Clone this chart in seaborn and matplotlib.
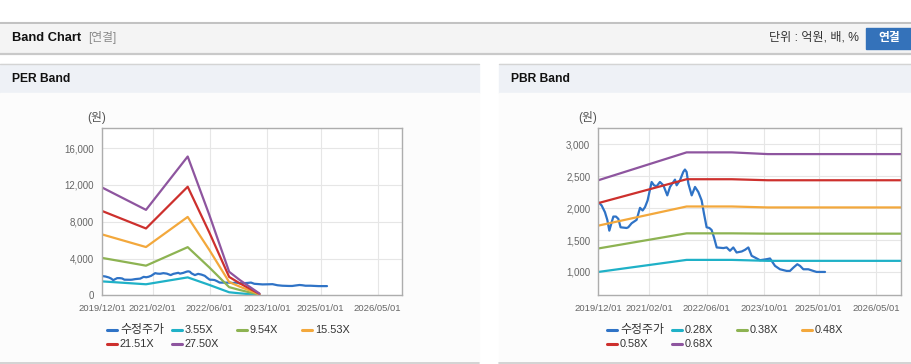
import matplotlib
matplotlib.use("Agg")
import matplotlib.pyplot as plt
import matplotlib.dates as mdates
from matplotlib.ticker import FuncFormatter
from matplotlib.patches import Rectangle
from matplotlib.lines import Line2D
import pandas as pd
import seaborn as sns

# ---- data ----
price_dates = [
    "2019-12-01", "2019-12-29", "2020-01-26", "2020-02-15", "2020-03-03", "2020-03-23",
    "2020-04-06", "2020-04-28", "2020-05-18", "2020-06-06", "2020-07-27", "2020-08-10",
    "2020-09-07", "2020-10-19", "2020-11-17", "2020-12-09", "2020-12-29", "2021-01-20",
    "2021-02-23", "2021-03-15", "2021-04-06", "2021-05-04", "2021-06-02", "2021-07-05",
    "2021-07-28", "2021-09-08", "2021-09-22", "2021-10-20", "2021-11-17", "2021-12-01",
    "2021-12-15", "2021-12-30", "2022-01-27", "2022-02-24", "2022-03-24", "2022-04-21",
    "2022-05-11", "2022-06-02", "2022-06-25", "2022-07-14", "2022-08-03", "2022-08-26",
    "2022-10-21", "2022-11-18", "2022-12-16", "2023-01-13", "2023-02-10", "2023-03-25",
    "2023-04-22", "2023-05-20", "2023-06-17", "2023-07-15", "2023-08-26", "2023-10-22",
    "2023-11-19", "2023-12-31", "2024-02-11", "2024-04-07", "2024-05-05", "2024-06-03",
    "2024-07-06", "2024-07-29", "2024-08-26", "2024-10-07", "2024-11-18", "2024-12-16",
    "2025-02-25",
]
price_values = [
    2095, 2042, 1937, 1816, 1647, 1779,
    1868, 1868, 1832, 1700, 1689, 1700,
    1763, 1816, 2005, 1963, 2016, 2121,
    2410, 2358, 2342, 2410, 2358, 2200,
    2332, 2447, 2358, 2437, 2568, 2605,
    2568, 2384, 2200, 2332, 2253, 2121,
    1911, 1700, 1689, 1658, 1542, 1384,
    1374, 1384, 1332, 1384, 1305, 1321,
    1347, 1384, 1253, 1226, 1184, 1200,
    1211, 1095, 1042, 1016, 1016, 1068,
    1121, 1095, 1042, 1042, 1016, 1000,
    1000,
]

per_dates = ["2019-12-01", "2020-12-07", "2021-11-27", "2022-05-30",
             "2022-11-15", "2023-02-15", "2023-07-31"]
per_355 = [1512, 1200, 1949, 1129, 330, 213, 25]
per_954 = [4064, 3225, 5237, 3034, 887, 572, 67]
per_1553 = [6616, 5249, 8526, 4939, 1444, 932, 109]
per_2151 = [9163, 7270, 11809, 6840, 2000, 1291, 151]
per_2750 = [11715, 9295, 15098, 8745, 2558, 1650, 193]
per_labels = ["3.55X", "9.54X", "15.53X", "21.51X", "27.50X"]

pbr_dates = ["2019-12-01", "2021-12-15", "2022-12-31", "2023-10-31", "2026-11-28"]
pbr_028 = [1000, 1189, 1189, 1174, 1174]
pbr_038 = [1368, 1605, 1605, 1600, 1600]
pbr_048 = [1726, 2026, 2026, 2011, 2011]
pbr_058 = [2079, 2453, 2453, 2437, 2437]
pbr_068 = [2437, 2874, 2874, 2847, 2847]
pbr_labels = ["0.28X", "0.38X", "0.48X", "0.58X", "0.68X"]

x_ticks = ["2019-12-01", "2021-02-01", "2022-06-01", "2023-10-01", "2025-01-01", "2026-05-01"]
x_range = ["2019-12-01", "2026-11-28"]

price_label = "수정주가"
price_color = "#2f73c6"
band_colors = ["#1fb1c7", "#8db352", "#f3a83c", "#cd302d", "#8e559f"]

# ---- style ----
sns.set_style("white")
plt.rcParams["font.family"] = ["Liberation Sans", "Noto Sans CJK KR", "DejaVu Sans"]

W, H = 912, 364
fig = plt.figure(figsize=(W / 100, H / 100), dpi=100)
fig.patch.set_facecolor("white")


def fx(px):
    return px / W


def fy(py):
    return 1 - py / H


def rect(x0, y0, x1, y1, color):
    fig.patches.append(Rectangle((fx(x0), fy(y1)), fx(x1) - fx(x0), fy(y0) - fy(y1),
                                 transform=fig.transFigure, color=color, zorder=-2))


def hline(x0, x1, y, color, lw=1.0):
    fig.add_artist(Line2D([fx(x0), fx(x1)], [fy(y), fy(y)], transform=fig.transFigure,
                          color=color, lw=lw, zorder=-1))


# header bar
rect(0, 22, W, 53, "#f4f4f4")
hline(0, W, 22.5, "#b9b9b9", 1.2)
hline(0, W, 53.5, "#c9c9c9", 1.6)
fig.text(fx(12), fy(38), "Band Chart", fontsize=9.3, fontweight="bold", va="center", color="#111")
fig.text(fx(88), fy(38), "[연결]", fontsize=8.5, va="center", color="#8a8a8a")
fig.text(fx(859), fy(38), "단위 : 억원, 배, %", fontsize=8.7, va="center", ha="right", color="#333")
rect(866, 28, W, 49, "#3472ba")
fig.text(fx(889), fy(38.5), "연결", fontsize=8.5, fontweight="bold", va="center", ha="center",
         color="white")

# panels
for x0, x1, title in [(0, 479, "PER Band"), (499, W, "PBR Band")]:
    rect(x0, 64, x1, 93, "#eef1f6")
    hline(x0, x1, 64, "#d4d4d4", 1.0)
    rect(x0, 93, x1, 362, "#fcfcfc")
    hline(x0, x1, 362.5, "#cccccc", 1.2)
    fig.text(fx(x0 + 12), fy(79), title, fontsize=8.7, fontweight="bold", va="center",
             color="#111")


def style_axes(ax, ylim, yticks):
    ax.set_facecolor("white")
    ax.set_xlim(pd.to_datetime(x_range))
    ax.set_ylim(*ylim)
    ax.set_xticks(pd.to_datetime(x_ticks))
    ax.xaxis.set_major_formatter(mdates.DateFormatter("%Y/%m/%d"))
    ax.set_yticks(yticks)
    ax.yaxis.set_major_formatter(FuncFormatter(lambda v, p: f"{v:,.0f}"))
    ax.tick_params(axis="x", length=0, pad=6, labelsize=6.8, colors="#666")
    ax.tick_params(axis="y", length=3.6, width=0.8, color="#b5b5b5", pad=2.2,
                   labelsize=7, labelcolor="#666")
    ax.grid(True, color="#e6e6e6", lw=0.8)
    for s in ax.spines.values():
        s.set_color("#adadad")
        s.set_linewidth(1.0)
    ax.set_xlabel("")
    ax.set_ylabel("")


def draw_chart(ax, band_dates, bands):
    sns.lineplot(x=pd.to_datetime(price_dates), y=price_values, ax=ax, color=price_color,
                 lw=1.6, legend=False)
    for vals, c in zip(bands, band_colors):
        sns.lineplot(x=pd.to_datetime(band_dates), y=vals, ax=ax, color=c, lw=1.6,
                     legend=False)


def draw_legend(cols, rows, labels):
    colors = [price_color] + band_colors
    for i, (lab, c) in enumerate(zip(labels, colors)):
        x = cols[i % 4]
        y = rows[i // 4]
        fig.add_artist(Line2D([fx(x), fx(x + 10)], [fy(y), fy(y)], transform=fig.transFigure,
                              color=c, lw=2.2))
        size = 8.6 if lab == price_label else 7.8
        fig.text(fx(x + 13), fy(y), lab, fontsize=size, va="center", color="#333")


# PER band chart
ax1 = fig.add_axes([fx(102.3), fy(295.3), fx(402.3) - fx(102.3), fy(128) - fy(295.3)])
ax1.set_zorder(2)
draw_chart(ax1, per_dates, [per_355, per_954, per_1553, per_2151, per_2750])
style_axes(ax1, (0, 18200), [0, 4000, 8000, 12000, 16000])
fig.text(fx(97), fy(118), "(원)", fontsize=8.5, ha="center", va="center", color="#555")
draw_legend([107, 172, 237, 302], [330, 344], [price_label] + per_labels)

# PBR band chart
ax2 = fig.add_axes([fx(598.3), fy(295.3), fx(901) - fx(598.3), fy(128) - fy(295.3)])
ax2.set_zorder(2)
draw_chart(ax2, pbr_dates, [pbr_028, pbr_038, pbr_048, pbr_058, pbr_068])
style_axes(ax2, (634, 3256), [1000, 1500, 2000, 2500, 3000])
fig.text(fx(588), fy(118), "(원)", fontsize=8.5, ha="center", va="center", color="#555")
draw_legend([607, 672, 737, 802], [330, 344], [price_label] + pbr_labels)

fig.savefig("out.png", dpi=100, facecolor=fig.get_facecolor())
